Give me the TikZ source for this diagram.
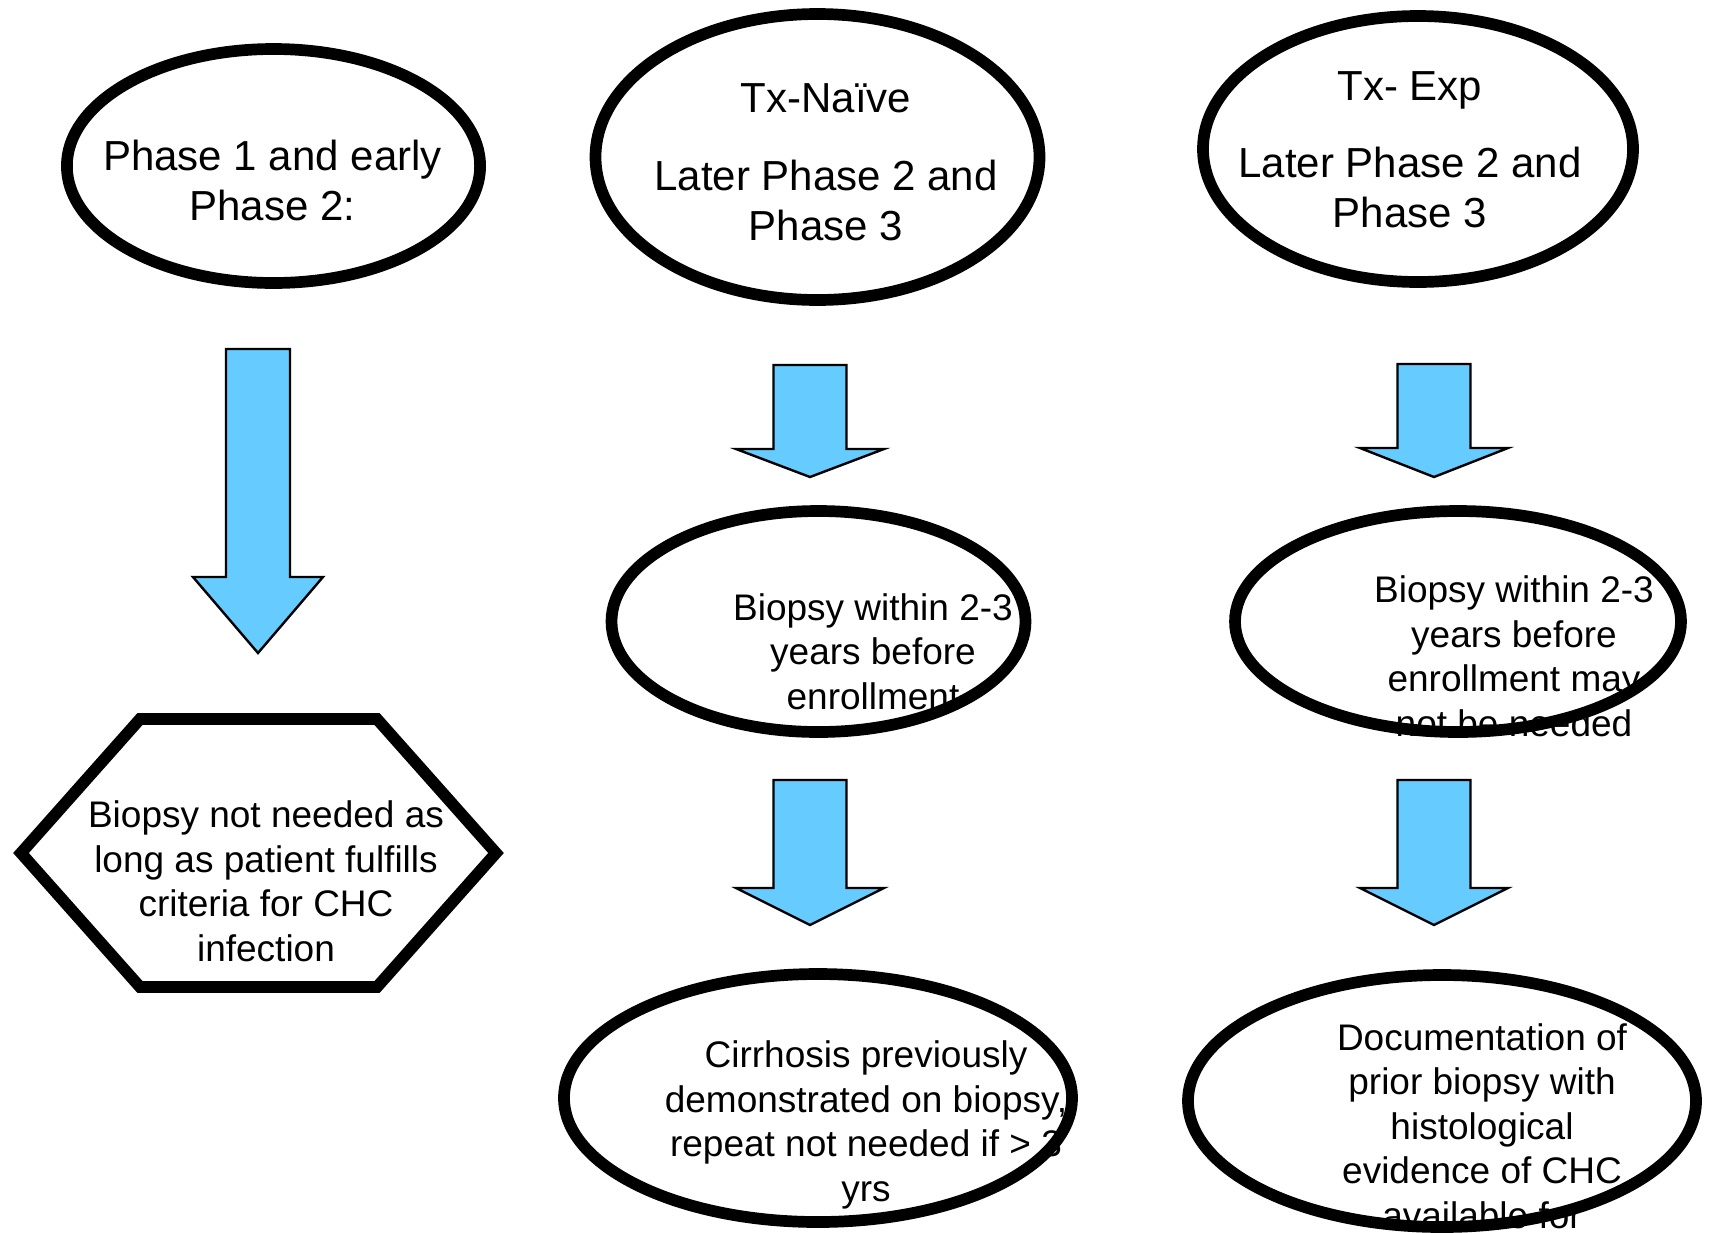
\documentclass[tikz,border=0pt]{standalone}
\usepackage{fontspec}
\setmainfont{Liberation Sans}
\usetikzlibrary{shapes.geometric}
\definecolor{arrowblue}{RGB}{102,204,255}
\newcommand{\blockarrow}[6]{% cx, top, shaft half width, head base, head half width, tip
  \filldraw[blockarr] (#1-#3,#2) -- (#1+#3,#2) -- (#1+#3,#4) -- (#1+#5,#4)
    -- (#1,#6) -- (#1-#5,#4) -- (#1-#3,#4) -- cycle;}
\begin{document}
\begin{tikzpicture}[x=0.5pt,y=-0.5pt,
  bigtext/.style={font=\fontsize{21pt}{25pt}\selectfont, align=center, inner sep=0pt, anchor=base},
  smalltext/.style={font=\fontsize{18.5pt}{22.2pt}\selectfont, align=center, inner sep=0pt, anchor=base},
  oval/.style={ellipse, draw=black, line width=5.85pt, inner sep=0pt, fill=none},
  hexline/.style={draw=black, line width=5.85pt, line join=miter},
  blockarr/.style={fill=arrowblue, draw=black, line width=1.2pt, line join=miter}]
\useasboundingbox (0,0) rectangle (1711,1232);
\clip (0,0) rectangle (1711,1232);
\fill[white] (0,0) rectangle (1711,1232);

% ---- top row (node base = baseline of last line)
\node[bigtext] (t1) at (272.5,220) {Phase 1 and early\\Phase 2:};
\node[oval, minimum width=206.6pt, minimum height=117pt] (e1) at (273.5,166) {};

\node[bigtext] (t2) at (826,240) {Tx-Naïve\\[14pt]Later Phase 2 and\\Phase 3};
\node[oval, minimum width=222pt, minimum height=143pt] (e2) at (817.5,157) {};

\node[bigtext] (t3) at (1410,227) {Tx- Exp\\[13.5pt]Later Phase 2 and\\Phase 3};
\node[oval, minimum width=215pt, minimum height=133pt] (e3) at (1418,149) {};

% ---- arrows
\blockarrow{258}{349}{32}{577}{65}{653}
\blockarrow{810}{365}{36.5}{449}{74}{477}
\blockarrow{810}{780}{36.5}{888}{74}{925}
\blockarrow{1434}{364}{36.5}{448}{74}{477}
\blockarrow{1434}{780}{36.5}{888}{74}{925}

% ---- hexagon
\draw[hexline] (21,853) -- (140,719) -- (377,719) -- (496,853) -- (377,987) -- (140,987) -- cycle;
\node[smalltext] (th) at (266,961) {Biopsy not needed as\\long as patient fulfills\\criteria for CHC\\infection};

% ---- middle row
\node[smalltext] (t2b) at (873,709) {Biopsy within 2-3\\years before\\enrollment};
\node[oval, minimum width=207pt, minimum height=110.5pt] (e2b) at (818.5,621.5) {};

\node[smalltext] (t3b) at (1514,736) {Biopsy within 2-3\\years before\\enrollment may\\not be needed};
\node[oval, minimum width=223pt, minimum height=110.5pt] (e3b) at (1458,621.5) {};

% ---- bottom row
\node[smalltext] (t2c) at (866,1201) {Cirrhosis previously\\demonstrated on biopsy,\\repeat not needed if > 3\\yrs};
\node[oval, minimum width=254pt, minimum height=124pt] (e2c) at (818,1098) {};

\node[smalltext] (t3c) at (1482,1228) {Documentation of\\prior biopsy with\\histological\\evidence of CHC\\available for};
\node[oval, minimum width=254pt, minimum height=126pt] (e3c) at (1442,1101) {};
\end{tikzpicture}
\end{document}
